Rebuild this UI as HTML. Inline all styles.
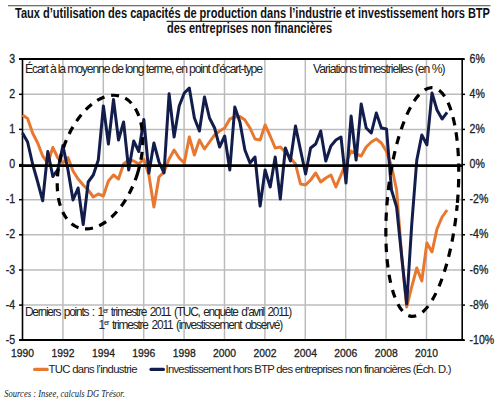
<!DOCTYPE html><html><head><meta charset="utf-8"><style>html,body{margin:0;padding:0;background:#fff;width:500px;height:403px;overflow:hidden}svg{display:block}</style></head><body><svg width="500" height="403" viewBox="0 0 500 403">
<rect width="500" height="403" fill="#fff"/>
<line x1="8" y1="5.8" x2="490.5" y2="5.8" stroke="#444" stroke-width="1.1"/>
<line x1="166.5" y1="21.3" x2="332.2" y2="21.3" stroke="#333" stroke-width="1.2"/>
<text x="15" y="17.8" font-family="Liberation Sans, sans-serif" font-weight="bold" font-size="14.5" fill="#111" textLength="475" lengthAdjust="spacingAndGlyphs">Taux d’utilisation des capacités de production dans l’industrie et investissement hors BTP</text>
<text x="167" y="33" font-family="Liberation Sans, sans-serif" font-weight="bold" font-size="14.5" fill="#111" textLength="165" lengthAdjust="spacingAndGlyphs">des entreprises non financières</text>
<line x1="62.9" y1="59" x2="62.9" y2="340" stroke="#bcbcbc" stroke-width="1.5"/>
<line x1="103.3" y1="59" x2="103.3" y2="340" stroke="#bcbcbc" stroke-width="1.5"/>
<line x1="143.7" y1="59" x2="143.7" y2="340" stroke="#bcbcbc" stroke-width="1.5"/>
<line x1="184.1" y1="59" x2="184.1" y2="340" stroke="#bcbcbc" stroke-width="1.5"/>
<line x1="224.5" y1="59" x2="224.5" y2="340" stroke="#bcbcbc" stroke-width="1.5"/>
<line x1="264.9" y1="59" x2="264.9" y2="340" stroke="#bcbcbc" stroke-width="1.5"/>
<line x1="305.3" y1="59" x2="305.3" y2="340" stroke="#bcbcbc" stroke-width="1.5"/>
<line x1="345.7" y1="59" x2="345.7" y2="340" stroke="#bcbcbc" stroke-width="1.5"/>
<line x1="386.1" y1="59" x2="386.1" y2="340" stroke="#bcbcbc" stroke-width="1.5"/>
<line x1="426.5" y1="59" x2="426.5" y2="340" stroke="#bcbcbc" stroke-width="1.5"/>
<line x1="22" y1="94.3" x2="463" y2="94.3" stroke="#bcbcbc" stroke-width="1.5"/>
<line x1="22" y1="129.4" x2="463" y2="129.4" stroke="#bcbcbc" stroke-width="1.5"/>
<line x1="22" y1="199.7" x2="463" y2="199.7" stroke="#bcbcbc" stroke-width="1.5"/>
<line x1="22" y1="234.8" x2="463" y2="234.8" stroke="#bcbcbc" stroke-width="1.5"/>
<line x1="22" y1="270.0" x2="463" y2="270.0" stroke="#bcbcbc" stroke-width="1.5"/>
<line x1="22" y1="305.1" x2="463" y2="305.1" stroke="#bcbcbc" stroke-width="1.5"/>
<line x1="19" y1="59" x2="464" y2="59" stroke="#000" stroke-width="2"/>
<line x1="19" y1="340" x2="464" y2="340" stroke="#000" stroke-width="2"/>
<line x1="22.5" y1="58" x2="22.5" y2="341" stroke="#000" stroke-width="1.6"/>
<line x1="462.2" y1="58" x2="462.2" y2="341" stroke="#000" stroke-width="1.6"/>
<line x1="19" y1="340.2" x2="22.5" y2="340.2" stroke="#000" stroke-width="1.5"/>
<line x1="462.5" y1="340.2" x2="465" y2="340.2" stroke="#000" stroke-width="1.5"/>
<line x1="19" y1="305.1" x2="22.5" y2="305.1" stroke="#000" stroke-width="1.5"/>
<line x1="462.5" y1="305.1" x2="465" y2="305.1" stroke="#000" stroke-width="1.5"/>
<line x1="19" y1="270.0" x2="22.5" y2="270.0" stroke="#000" stroke-width="1.5"/>
<line x1="462.5" y1="270.0" x2="465" y2="270.0" stroke="#000" stroke-width="1.5"/>
<line x1="19" y1="234.8" x2="22.5" y2="234.8" stroke="#000" stroke-width="1.5"/>
<line x1="462.5" y1="234.8" x2="465" y2="234.8" stroke="#000" stroke-width="1.5"/>
<line x1="19" y1="199.7" x2="22.5" y2="199.7" stroke="#000" stroke-width="1.5"/>
<line x1="462.5" y1="199.7" x2="465" y2="199.7" stroke="#000" stroke-width="1.5"/>
<line x1="19" y1="164.6" x2="22.5" y2="164.6" stroke="#000" stroke-width="1.5"/>
<line x1="462.5" y1="164.6" x2="465" y2="164.6" stroke="#000" stroke-width="1.5"/>
<line x1="19" y1="129.4" x2="22.5" y2="129.4" stroke="#000" stroke-width="1.5"/>
<line x1="462.5" y1="129.4" x2="465" y2="129.4" stroke="#000" stroke-width="1.5"/>
<line x1="19" y1="94.3" x2="22.5" y2="94.3" stroke="#000" stroke-width="1.5"/>
<line x1="462.5" y1="94.3" x2="465" y2="94.3" stroke="#000" stroke-width="1.5"/>
<line x1="19" y1="59.1" x2="22.5" y2="59.1" stroke="#000" stroke-width="1.5"/>
<line x1="462.5" y1="59.1" x2="465" y2="59.1" stroke="#000" stroke-width="1.5"/>
<text transform="translate(15.2,343.9) scale(0.88,1)" text-anchor="end" font-family="Liberation Sans, sans-serif" font-size="12" fill="#222" stroke="#222" stroke-width="0.3">-5</text>
<text transform="translate(15.2,308.7) scale(0.88,1)" text-anchor="end" font-family="Liberation Sans, sans-serif" font-size="12" fill="#222" stroke="#222" stroke-width="0.3">-4</text>
<text transform="translate(15.2,273.6) scale(0.88,1)" text-anchor="end" font-family="Liberation Sans, sans-serif" font-size="12" fill="#222" stroke="#222" stroke-width="0.3">-3</text>
<text transform="translate(15.2,238.4) scale(0.88,1)" text-anchor="end" font-family="Liberation Sans, sans-serif" font-size="12" fill="#222" stroke="#222" stroke-width="0.3">-2</text>
<text transform="translate(15.2,203.3) scale(0.88,1)" text-anchor="end" font-family="Liberation Sans, sans-serif" font-size="12" fill="#222" stroke="#222" stroke-width="0.3">-1</text>
<text transform="translate(15.2,168.2) scale(0.88,1)" text-anchor="end" font-family="Liberation Sans, sans-serif" font-size="12" fill="#222" stroke="#222" stroke-width="0.3">0</text>
<text transform="translate(15.2,133.0) scale(0.88,1)" text-anchor="end" font-family="Liberation Sans, sans-serif" font-size="12" fill="#222" stroke="#222" stroke-width="0.3">1</text>
<text transform="translate(15.2,97.9) scale(0.88,1)" text-anchor="end" font-family="Liberation Sans, sans-serif" font-size="12" fill="#222" stroke="#222" stroke-width="0.3">2</text>
<text transform="translate(15.2,62.7) scale(0.88,1)" text-anchor="end" font-family="Liberation Sans, sans-serif" font-size="12" fill="#222" stroke="#222" stroke-width="0.3">3</text>
<text transform="translate(469.6,343.9) scale(0.88,1)" font-family="Liberation Sans, sans-serif" font-size="12" fill="#222" stroke="#222" stroke-width="0.3">-10%</text>
<text transform="translate(469.6,308.7) scale(0.88,1)" font-family="Liberation Sans, sans-serif" font-size="12" fill="#222" stroke="#222" stroke-width="0.3">-8%</text>
<text transform="translate(469.6,273.6) scale(0.88,1)" font-family="Liberation Sans, sans-serif" font-size="12" fill="#222" stroke="#222" stroke-width="0.3">-6%</text>
<text transform="translate(469.6,238.4) scale(0.88,1)" font-family="Liberation Sans, sans-serif" font-size="12" fill="#222" stroke="#222" stroke-width="0.3">-4%</text>
<text transform="translate(469.6,203.3) scale(0.88,1)" font-family="Liberation Sans, sans-serif" font-size="12" fill="#222" stroke="#222" stroke-width="0.3">-2%</text>
<text transform="translate(469.6,168.2) scale(0.88,1)" font-family="Liberation Sans, sans-serif" font-size="12" fill="#222" stroke="#222" stroke-width="0.3">0%</text>
<text transform="translate(469.6,133.0) scale(0.88,1)" font-family="Liberation Sans, sans-serif" font-size="12" fill="#222" stroke="#222" stroke-width="0.3">2%</text>
<text transform="translate(469.6,97.9) scale(0.88,1)" font-family="Liberation Sans, sans-serif" font-size="12" fill="#222" stroke="#222" stroke-width="0.3">4%</text>
<text transform="translate(469.6,62.7) scale(0.88,1)" font-family="Liberation Sans, sans-serif" font-size="12" fill="#222" stroke="#222" stroke-width="0.3">6%</text>
<text x="22.6" y="357" text-anchor="middle" font-family="Liberation Sans, sans-serif" font-size="11.6" fill="#222" stroke="#222" stroke-width="0.3" textLength="23" lengthAdjust="spacingAndGlyphs">1990</text>
<text x="63.0" y="357" text-anchor="middle" font-family="Liberation Sans, sans-serif" font-size="11.6" fill="#222" stroke="#222" stroke-width="0.3" textLength="23" lengthAdjust="spacingAndGlyphs">1992</text>
<text x="103.4" y="357" text-anchor="middle" font-family="Liberation Sans, sans-serif" font-size="11.6" fill="#222" stroke="#222" stroke-width="0.3" textLength="23" lengthAdjust="spacingAndGlyphs">1994</text>
<text x="143.8" y="357" text-anchor="middle" font-family="Liberation Sans, sans-serif" font-size="11.6" fill="#222" stroke="#222" stroke-width="0.3" textLength="23" lengthAdjust="spacingAndGlyphs">1996</text>
<text x="184.2" y="357" text-anchor="middle" font-family="Liberation Sans, sans-serif" font-size="11.6" fill="#222" stroke="#222" stroke-width="0.3" textLength="23" lengthAdjust="spacingAndGlyphs">1998</text>
<text x="224.6" y="357" text-anchor="middle" font-family="Liberation Sans, sans-serif" font-size="11.6" fill="#222" stroke="#222" stroke-width="0.3" textLength="23" lengthAdjust="spacingAndGlyphs">2000</text>
<text x="265.0" y="357" text-anchor="middle" font-family="Liberation Sans, sans-serif" font-size="11.6" fill="#222" stroke="#222" stroke-width="0.3" textLength="23" lengthAdjust="spacingAndGlyphs">2002</text>
<text x="305.4" y="357" text-anchor="middle" font-family="Liberation Sans, sans-serif" font-size="11.6" fill="#222" stroke="#222" stroke-width="0.3" textLength="23" lengthAdjust="spacingAndGlyphs">2004</text>
<text x="345.8" y="357" text-anchor="middle" font-family="Liberation Sans, sans-serif" font-size="11.6" fill="#222" stroke="#222" stroke-width="0.3" textLength="23" lengthAdjust="spacingAndGlyphs">2006</text>
<text x="386.2" y="357" text-anchor="middle" font-family="Liberation Sans, sans-serif" font-size="11.6" fill="#222" stroke="#222" stroke-width="0.3" textLength="23" lengthAdjust="spacingAndGlyphs">2008</text>
<text x="426.6" y="357" text-anchor="middle" font-family="Liberation Sans, sans-serif" font-size="11.6" fill="#222" stroke="#222" stroke-width="0.3" textLength="23" lengthAdjust="spacingAndGlyphs">2010</text>
<text x="25" y="73" font-family="Liberation Sans, sans-serif" font-size="12.2" fill="#222" textLength="238" lengthAdjust="spacing">Écart à la moyenne de long terme, en point d’écart-type</text>
<text x="313" y="73" font-family="Liberation Sans, sans-serif" font-size="12.2" fill="#222" textLength="132.5" lengthAdjust="spacing">Variations trimestrielles (en %)</text>
<text x="25" y="316" font-family="Liberation Sans, sans-serif" font-size="11.9" fill="#222" letter-spacing="-1.15" word-spacing="1.5" textLength="266" lengthAdjust="spacing">Derniers points : 1<tspan font-size="7.5" dy="-3.5">er</tspan><tspan dy="3.5"> trimestre 2011 (TUC, enquête d’avril 2011)</tspan></text>
<text x="98.5" y="328.5" font-family="Liberation Sans, sans-serif" font-size="11.9" fill="#222" letter-spacing="-1.15" word-spacing="1.5" textLength="183.5" lengthAdjust="spacing">1<tspan font-size="7.5" dy="-3.5">er</tspan><tspan dy="3.5"> trimestre 2011 (investissement observé)</tspan></text>
<path d="M22.5,115.0 L27.6,118.4 L32.6,133.0 L37.7,143.0 L42.7,156.0 L47.8,163.0 L52.8,147.5 L57.9,158.0 L62.9,163.0 L68.0,157.6 L73.0,171.0 L78.1,179.0 L83.2,185.0 L88.2,190.0 L93.3,197.0 L98.3,194.0 L103.4,196.0 L108.4,181.0 L113.5,175.0 L118.5,179.0 L123.6,164.0 L128.7,160.0 L133.7,161.0 L138.8,164.0 L143.8,159.0 L148.9,175.0 L153.9,207.0 L159.0,177.0 L164.0,172.0 L169.1,159.0 L174.1,150.0 L179.2,158.0 L184.3,163.0 L189.3,137.0 L194.4,155.0 L199.4,140.0 L204.5,149.0 L209.5,142.0 L214.6,135.0 L219.6,131.0 L224.7,128.0 L229.8,119.0 L234.8,117.0 L239.9,116.5 L244.9,120.0 L250.0,128.0 L255.0,139.0 L260.1,140.0 L265.1,125.0 L270.2,136.0 L275.2,148.0 L280.3,147.0 L285.4,152.0 L290.4,158.0 L295.5,164.0 L300.5,184.0 L305.6,185.0 L310.6,180.0 L315.7,173.0 L320.7,182.0 L325.8,178.0 L330.9,175.0 L335.9,187.0 L341.0,175.0 L346.0,163.0 L351.1,151.0 L356.1,154.0 L361.2,156.0 L366.2,147.0 L371.3,142.0 L376.3,139.0 L381.4,143.0 L386.5,151.5 L391.5,166.0 L396.6,190.0 L401.6,255.0 L406.7,307.0 L411.7,287.0 L416.8,268.0 L421.8,281.0 L426.9,243.0 L432.0,252.0 L437.0,229.0 L442.1,217.0 L447.1,210.0" fill="none" stroke="#e8782f" stroke-width="3" stroke-linejoin="round"/>
<path d="M22.5,133.0 L27.6,142.0 L32.6,164.0 L37.7,182.0 L42.7,200.8 L47.8,151.5 L52.8,176.5 L57.9,169.6 L62.9,145.5 L68.0,170.0 L73.0,200.0 L78.1,188.0 L83.2,224.5 L88.2,182.0 L93.3,175.0 L98.3,160.0 L103.4,106.0 L108.4,144.0 L113.5,99.5 L118.5,140.0 L123.6,122.0 L128.7,170.0 L133.7,141.0 L138.8,151.5 L143.8,119.5 L148.9,173.0 L153.9,143.0 L159.0,162.0 L164.0,173.0 L169.1,93.8 L174.1,137.0 L179.2,106.0 L184.3,93.0 L189.3,88.0 L194.4,118.0 L199.4,131.0 L204.5,97.0 L209.5,118.0 L214.6,128.0 L219.6,147.0 L224.7,136.0 L229.8,170.0 L234.8,107.0 L239.9,122.0 L244.9,150.0 L250.0,163.0 L255.0,157.0 L260.1,206.0 L265.1,170.0 L270.2,187.0 L275.2,157.0 L280.3,199.0 L285.4,148.0 L290.4,161.0 L295.5,126.0 L300.5,150.0 L305.6,174.0 L310.6,148.0 L315.7,144.0 L320.7,131.0 L325.8,161.0 L330.9,146.0 L335.9,140.0 L341.0,137.0 L346.0,183.0 L351.1,116.0 L356.1,160.0 L361.2,104.0 L366.2,128.0 L371.3,133.0 L376.3,113.0 L381.4,128.0 L386.5,129.0 L391.5,190.0 L396.6,207.0 L401.6,255.5 L406.7,304.0 L411.7,225.0 L416.8,160.0 L421.8,135.0 L426.9,144.8 L432.0,93.0 L437.0,110.0 L442.1,119.0 L447.1,112.4" fill="none" stroke="#121d4c" stroke-width="3" stroke-linejoin="round"/>
<line x1="19" y1="165.65" x2="463" y2="165.65" stroke="#000" stroke-width="2.7"/>
<ellipse cx="0" cy="0" rx="39.2" ry="69" transform="translate(100,162.1) rotate(17.56)" fill="none" stroke="#000" stroke-width="3.2" stroke-dasharray="8 6.75" stroke-dashoffset="1.27"/>
<ellipse cx="0" cy="0" rx="35.05" ry="114.8" transform="translate(422.3,202) rotate(5.27)" fill="none" stroke="#000" stroke-width="3.2" stroke-dasharray="8.3 7.2" stroke-dashoffset="2.56"/>
<line x1="34.6" y1="369.4" x2="47.2" y2="369.4" stroke="#e8782f" stroke-width="3.2" stroke-linecap="round"/>
<text x="48.5" y="373" font-family="Liberation Sans, sans-serif" font-size="11.3" fill="#222" textLength="89" lengthAdjust="spacing">TUC dans l’industrie</text>
<line x1="151" y1="369.4" x2="163.4" y2="369.4" stroke="#121d4c" stroke-width="3.2" stroke-linecap="round"/>
<text x="165.5" y="373" font-family="Liberation Sans, sans-serif" font-size="11.3" fill="#222" textLength="286" lengthAdjust="spacing">Investissement hors BTP des entreprises non financières (Éch. D.)</text>
<text x="4.3" y="397.4" font-family="Liberation Serif, serif" font-style="italic" font-size="11.3" fill="#222" textLength="120.5" lengthAdjust="spacingAndGlyphs">Sources : Insee, calculs DG Trésor.</text>
</svg></body></html>
